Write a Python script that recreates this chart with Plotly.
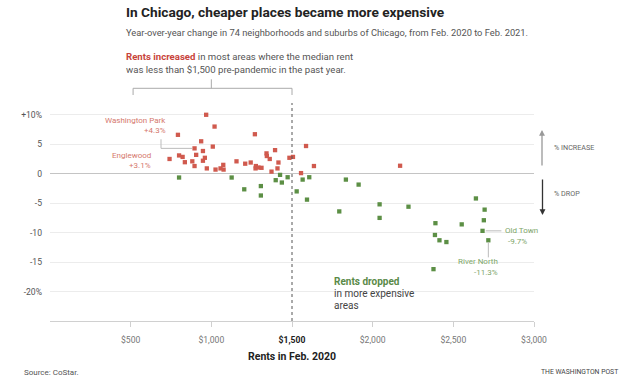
import plotly.graph_objects as go

# ---------------- data ----------------
inc_rent = [968, 1020, 793, 1270, 937, 1009, 896, 948, 1395, 1342, 1344, 906, 800, 822,
            741, 960, 948, 882, 836, 896, 972, 1026, 1057, 1074, 1076, 1156, 1210, 1244,
            1276, 1274, 1292, 1311, 1362, 1416, 1410, 1373, 1484, 1506, 1587, 1636, 1556, 2170]
inc_chg = [10.0, 8.0, 6.6, 6.7, 5.5, 4.6, 4.3, 3.85, 4.0, 3.45, 3.0, 3.2, 3.1, 2.85,
           2.5, 2.7, 2.2, 2.1, 1.95, 1.3, 0.9, 0.7, 0.9, 1.5, 0.7, 2.1, 1.7, 1.9,
           1.3, 0.9, 1.05, 1.0, 2.5, 1.9, 0.9, 0.35, 2.7, 2.85, 4.7, 1.3, 0.1, 1.35]

drop_rent = [800, 1126, 1204, 1307, 1307, 1399, 1426, 1437, 1473, 1529, 1566, 1607, 1593,
             1834, 1913, 1793, 2043, 2043, 2222, 2640, 2694, 2689, 2681, 2717, 2552, 2389,
             2386, 2414, 2457, 2377]
drop_chg = [-0.65, -0.65, -2.65, -2.1, -3.7, -1.1, -0.2, -1.5, -0.6, -3.0, -1.0, -0.6, -4.4,
            -1.0, -1.85, -6.4, -5.2, -7.5, -5.6, -4.2, -6.1, -7.9, -9.7, -11.3, -8.6, -8.4,
            -10.4, -11.3, -11.6, -16.2]

x_tickvals = [500, 1000, 1500, 2000, 2500, 3000]
x_ticktext = ["$500", "$1,000", "<b><span style='color:#222'>$1,500</span></b>", "$2,000", "$2,500", "$3,000"]
y_tickvals = [10, 5, 0, -5, -10, -15, -20]
y_ticktext = ["+10%", "5", "0", "-5", "-10", "-15", "-20%"]

WP_IDX, EW_IDX = 6, 12        # Washington Park, Englewood (in increased list)
OT_IDX, RN_IDX = 22, 23       # Old Town, River North (in dropped list)

RED = "#d05a4e"
GREEN = "#5c8f45"
RED_TXT = "#d5786d"
GREEN_TXT = "#7ea66a"
FONT = "Roboto"

# ---------------- geometry ----------------
W, H = 633, 391
L, R, T, B = 50, 534, 103, 321


def px(x):
    return (x - L) / (R - L)


def py(y):
    return (B - y) / (B - T)


fig = go.Figure()
fig.add_trace(go.Scatter(x=inc_rent, y=inc_chg, mode="markers",
                         marker=dict(symbol="square", size=4.3, color=RED), hoverinfo="x+y"))
fig.add_trace(go.Scatter(x=drop_rent, y=drop_chg, mode="markers",
                         marker=dict(symbol="square", size=4.3, color=GREEN), hoverinfo="x+y"))

ann = []


def text(x, y, s, size=9, color="#444", xanchor="left", bold=False, family=FONT):
    if bold:
        s = "<b>" + s + "</b>"
    ann.append(dict(x=px(x), y=py(y), xref="paper", yref="paper", text=s, showarrow=False,
                    xanchor=xanchor, yanchor="middle", align=xanchor if xanchor != "center" else "center",
                    font=dict(size=size, color=color, family=family)))


# title block
text(123.5, 12, "In Chicago, cheaper places became more expensive", size=13.7, color="#222", bold=True)
text(123.5, 32, "Year-over-year change in 74 neighborhoods and suburbs of Chicago, from Feb. 2020 to Feb. 2021.",
     size=9.3, color="#555")
ann.append(dict(x=px(123.5), y=py(57), xref="paper", yref="paper", showarrow=False, xanchor="left",
                yanchor="middle", align="left", font=dict(size=9.6, color="#555", family=FONT),
                text="<b><span style='color:#c8443b'>Rents increased</span></b> in most areas where the median rent"))
text(123.5, 69.5, "was less than $1,500 pre-pandemic in the past year.", size=9.6, color="#555")

# point labels
text(168, 120, "Washington Park", size=8, color=RED_TXT, xanchor="right")
text(168, 130.5, "+4.3%", size=8, color=RED_TXT, xanchor="right")
text(153, 155.5, "Englewood", size=8, color=RED_TXT, xanchor="right")
text(153, 165.5, "+3.1%", size=8, color=RED_TXT, xanchor="right")
text(503, 230, "Old Town", size=8, color=GREEN_TXT)
text(506, 241, "-9.7%", size=8, color=GREEN_TXT)
text(500, 261.5, "River North", size=8, color=GREEN_TXT, xanchor="right")
text(500, 272.5, "-11.3%", size=8, color=GREEN_TXT, xanchor="right")

# rents dropped
text(331.5, 281, "Rents dropped", size=10, color="#5a8a48", bold=True)
text(331.5, 293.5, "in more expensive", size=10, color="#444")
text(331.5, 305.5, "areas", size=10, color="#444")

# right side guide
text(551.5, 147.5, "% INCREASE", size=7.2, color="#666")
text(551.5, 193.5, "% DROP", size=7.2, color="#666")
ann.append(dict(x=px(542), y=py(130), xref="paper", yref="paper", ax=0, ay=37, axref="pixel", ayref="pixel",
                text="", showarrow=True, arrowhead=2, arrowsize=0.9, arrowwidth=1.3, arrowcolor="#999"))
ann.append(dict(x=px(542.5), y=py(215), xref="paper", yref="paper", ax=0, ay=-37, axref="pixel", ayref="pixel",
                text="", showarrow=True, arrowhead=2, arrowsize=0.9, arrowwidth=1.3, arrowcolor="#333"))

# x axis title & footer
text(291.5, 356, "Rents in Feb. 2020", size=10.5, color="#222", xanchor="center", bold=True)
text(22, 372, "Source: CoStar.", size=8, color="#555")
text(620, 372, "THE WASHINGTON POST", size=6.8, color="#444", xanchor="right")

shapes = []
# dashed vertical line at $1,500
shapes.append(dict(type="line", xref="x", yref="paper", x0=1500, x1=1500, y0=0, y1=1,
                   line=dict(color="#555", width=1, dash="dot")))
# bracket above
by = py(88.3)
bend = py(95)
shapes.append(dict(type="path", xref="x", yref="paper",
                   path=f"M 515 {bend} L 515 {by} L 1500 {by} L 1500 {bend}",
                   line=dict(color="#aaa", width=1)))
shapes.append(dict(type="line", xref="x", yref="paper", x0=1000, x1=1000, y0=by, y1=py(79.3),
                   line=dict(color="#aaa", width=1)))

# leader lines
wx, wy = inc_rent[WP_IDX], inc_chg[WP_IDX]
shapes.append(dict(type="path", xref="x", yref="y",
                   path=f"M 688 {wy + 1.55} L 688 {wy} L {wx - 15} {wy}",
                   line=dict(color="#bbb", width=1)))
ox, oy = drop_rent[OT_IDX], drop_chg[OT_IDX]
shapes.append(dict(type="line", xref="x", yref="y", x0=ox + 20, x1=2798, y0=oy, y1=oy,
                   line=dict(color="#bbb", width=1)))
rx, ry = drop_rent[RN_IDX], drop_chg[RN_IDX]
shapes.append(dict(type="line", xref="x", yref="y", x0=rx, x1=rx, y0=ry - 0.3, y1=-14.2,
                   line=dict(color="#bbb", width=1)))

fig.update_layout(
    width=W, height=H,
    margin=dict(l=L, r=W - R, t=T, b=H - B),
    paper_bgcolor="white", plot_bgcolor="white",
    showlegend=False,
    annotations=ann, shapes=shapes,
    font=dict(family=FONT),
    xaxis=dict(range=[0, 3000], tickvals=x_tickvals, ticktext=x_ticktext, showgrid=False,
               zeroline=False, showline=True, linecolor="#d0d0d0", linewidth=1,
               ticks="outside", ticklen=5, tickcolor="#d0d0d0",
               tickfont=dict(size=8.6, color="#777", family=FONT), ticklabelstandoff=6,
               fixedrange=True),
    yaxis=dict(range=[-25, 12], tickvals=y_tickvals, ticktext=y_ticktext, showgrid=True,
               gridcolor="#ececec", gridwidth=1, zeroline=True, zerolinecolor="#c4c4c4",
               zerolinewidth=1, showline=False, ticks="",
               tickfont=dict(size=8.6, color="#555", family=FONT), ticklabelstandoff=7,
               fixedrange=True),
)

fig.write_html("out.html", config={"displayModeBar": False},
               post_script="document.body.style.margin='0';document.body.style.overflow='hidden';")
